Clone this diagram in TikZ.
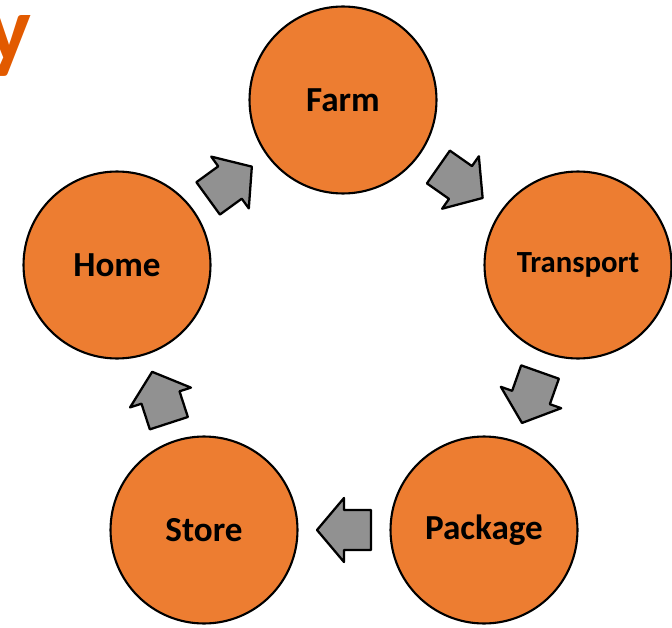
\documentclass[tikz,border=0pt]{standalone}
\usepackage{fontspec}
\setmainfont{Carlito}
\usetikzlibrary{calc}

\definecolor{stageorange}{RGB}{237,125,49}
\definecolor{titleorange}{RGB}{226,90,0}
\definecolor{arrowgray}{RGB}{145,145,145}

\tikzset{
	stage/.style={circle, draw=black, line width=1.2pt, fill=stageorange,
		minimum size=3.74cm, inner sep=0pt, font=\bfseries\fontsize{20}{24}\selectfont},
	flowarrow/.style={draw=black, line width=1.3pt, line join=round, fill=arrowgray}
}

\begin{document}
\begin{tikzpicture}[x=0.02cm, y=-0.02cm]
		\useasboundingbox (0,0) rectangle (672,628);

		% cut-off title letter
		\node[anchor=base east, inner sep=0pt, text=titleorange, font=\bfseries\fontsize{54}{60}\selectfont] (title) at (32,62) {y};

		% stages of the cycle
		\node[stage] (farm) at (343,100) {Farm};
		\node[stage, font=\bfseries\fontsize{17.5}{21}\selectfont] (transport) at (578,265) {Transport};
		\node[stage] (package) at (484,530) {Package};
		\node[stage] (store) at (204,530) {Store};
		\node[stage] (home) at (117,265) {Home};

		% block arrows between stages
		\foreach \a/\b/\ang in {farm/transport/-35, transport/package/-109.5,
			package/store/180, store/home/108, home/farm/36}{
			\begin{scope}[shift={($(\a)!0.5!(\b)$)}, rotate=\ang]
				\draw[flowarrow] (27,0) -- (0,-32) -- (0,-20) -- (-27,-20)
					-- (-27,20) -- (0,20) -- (0,32) -- cycle;
			\end{scope}
		}
	\end{tikzpicture}
\end{document}
